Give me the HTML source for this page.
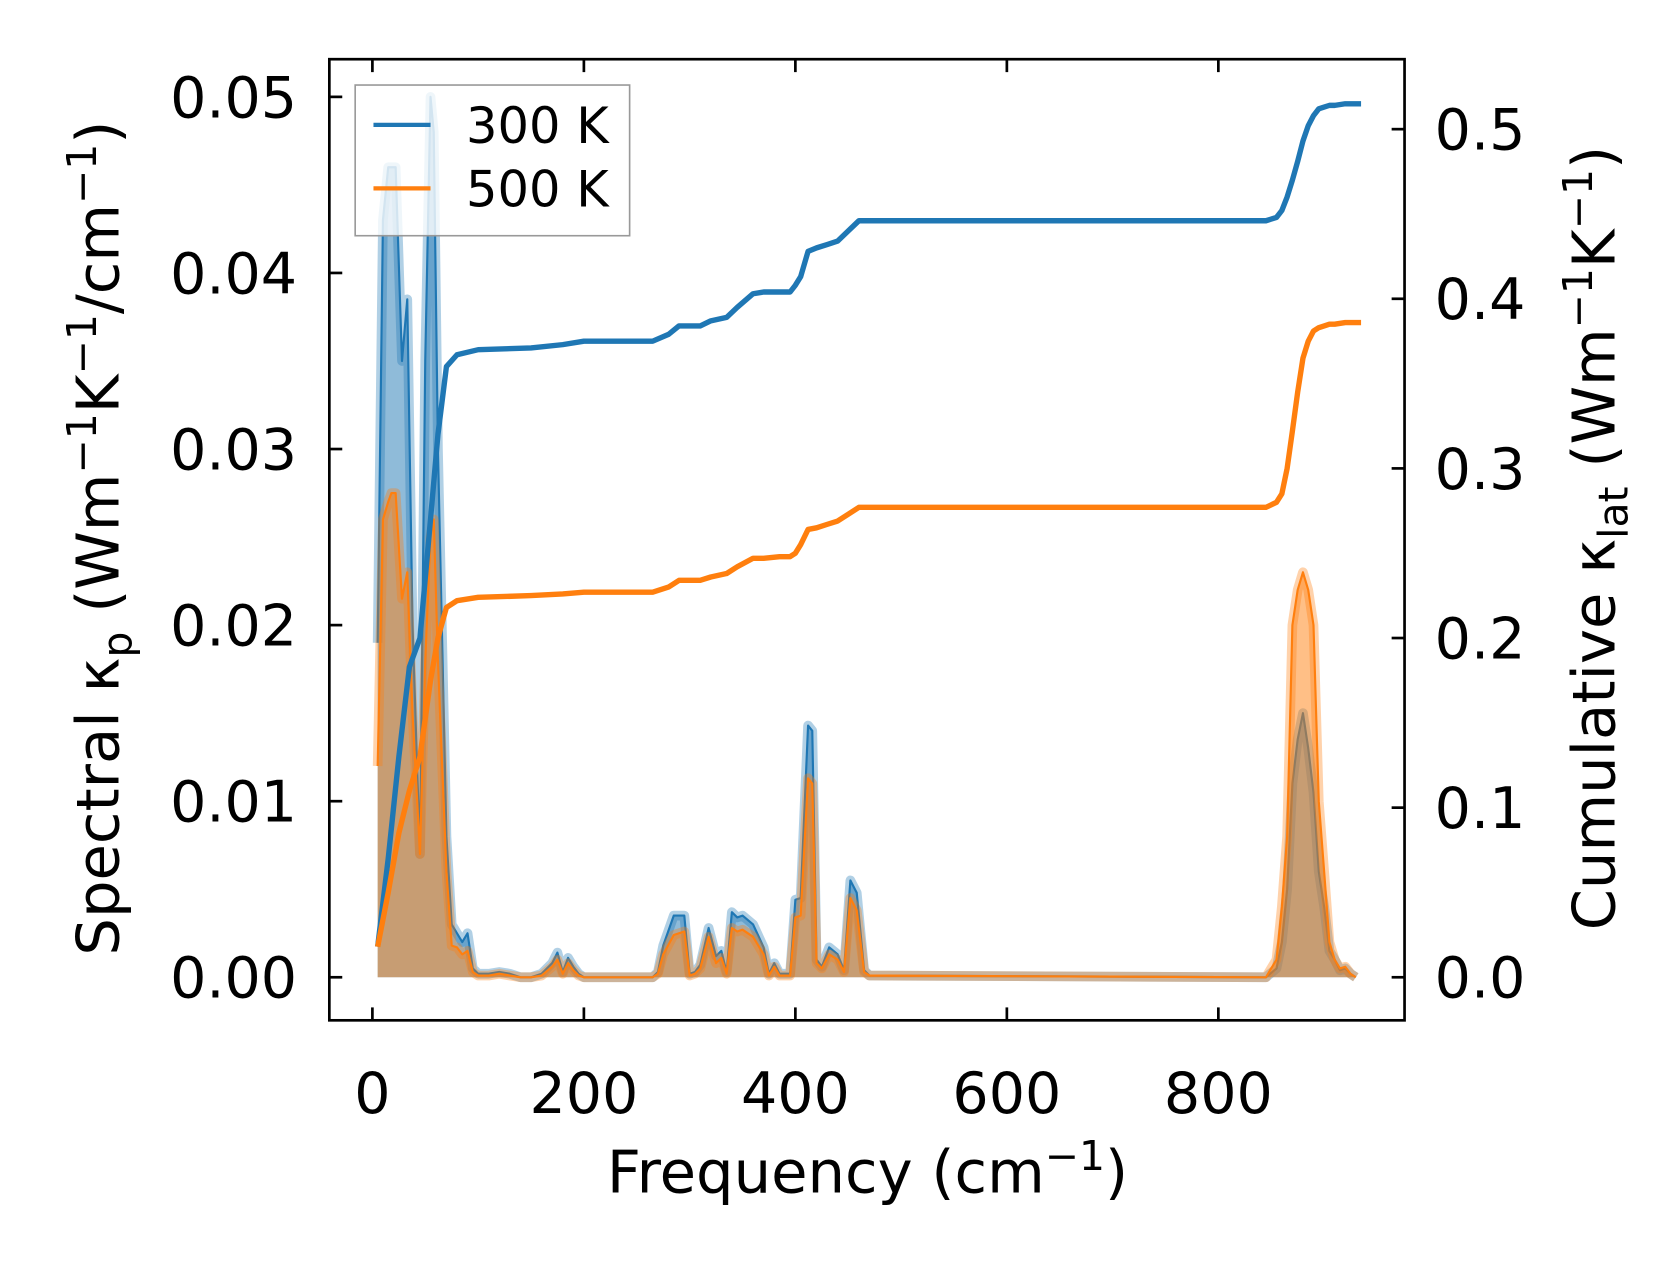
<!DOCTYPE html>
<html><head><meta charset="utf-8"><style>
html,body{margin:0;padding:0;background:#fff;}
svg{display:block;font-family:"DejaVu Sans","Liberation Sans",sans-serif;}
</style></head><body>
<svg id="chart" width="1679" height="1264" viewBox="0 0 1560 1174.4" xmlns="http://www.w3.org/2000/svg">
<rect width="1560" height="1174.4" fill="#fff"/>
<g id="marks"></g>
<g id="axes"></g>
<g>
<rect x="330" y="79" width="255" height="140" fill="#fff" fill-opacity="0.8" stroke="#999" stroke-width="1.5"/>
<line x1="347" y1="116" x2="400" y2="116" stroke="#1f77b4" stroke-width="4"/>
<text x="433" y="133" font-size="46">300 K</text>
<line x1="347" y1="175" x2="400" y2="175" stroke="#ff7f0e" stroke-width="4"/>
<text x="433" y="192" font-size="46">500 K</text>
</g>
<text x="806" y="1108" font-size="55" text-anchor="middle">Frequency (cm<tspan font-size="38" dy="-21">−1</tspan><tspan dy="21">)</tspan></text>
<text transform="translate(110,500) rotate(-90)" font-size="55" text-anchor="middle">Spectral κ<tspan font-size="38" dy="12">p</tspan><tspan dy="-12"> (Wm</tspan><tspan font-size="38" dy="-21">−1</tspan><tspan dy="21">K</tspan><tspan font-size="38" dy="-21">−1</tspan><tspan dy="21">/cm</tspan><tspan font-size="38" dy="-21">−1</tspan><tspan dy="21">)</tspan></text>
<text transform="translate(1500,500) rotate(-90)" font-size="55" text-anchor="middle">Cumulative κ<tspan font-size="38" dy="12">lat</tspan><tspan dy="-12"> (Wm</tspan><tspan font-size="38" dy="-21">−1</tspan><tspan dy="21">K</tspan><tspan font-size="38" dy="-21">−1</tspan><tspan dy="21">)</tspan></text>
</svg>
<script>
const freqSpec = [5,10,15,18,22,28,33,38,45,50,55,58,62,70,75,80,85,90,95,100,110,120,130,140,150,160,170,175,180,185,190,195,200,265,270,275,285,295,300,305,310,318,325,330,335,340,345,350,360,370,375,380,385,390,395,400,405,412,416,420,425,432,440,446,452,458,465,470,845,855,860,865,870,875,880,885,890,895,900,905,910,915,920,925,930];
const spec300 = [0.019,0.043,0.046,0.046,0.046,0.035,0.0385,0.02,0.007,0.035,0.05,0.048,0.03,0.008,0.003,0.0025,0.002,0.0025,0.0005,0.0002,0.0002,0.0003,0.0002,0,0,0.0002,0.0008,0.0014,0.0003,0.0011,0.0006,0.0002,0,0,0.0003,0.0018,0.0035,0.0035,0.0002,0.0003,0.0007,0.0028,0.0012,0.0015,0.0003,0.0037,0.0034,0.0035,0.003,0.0017,0.0002,0.0008,0.0002,0.0002,0.0002,0.0044,0.0045,0.0143,0.014,0.001,0.0006,0.0017,0.0013,0.0004,0.0055,0.0048,0.0004,0.0001,0,0.0005,0.002,0.005,0.011,0.0135,0.015,0.013,0.0105,0.006,0.004,0.0015,0.001,0.0004,0.0005,0.0002,0];
const spec500 = [0.012,0.026,0.027,0.0275,0.0275,0.0215,0.023,0.015,0.007,0.018,0.025,0.026,0.018,0.006,0.0018,0.0017,0.0013,0.0015,0.0003,0.0001,0.0001,0.0002,0.0001,0,0,0.0001,0.0006,0.001,0.0002,0.0008,0.0004,0.0001,0,0,0.0002,0.0013,0.0024,0.0026,0.0001,0.0002,0.0005,0.0023,0.0008,0.0011,0.0002,0.0028,0.0026,0.0027,0.0023,0.0013,0.0001,0.0006,0.0001,0.0001,0.0001,0.0034,0.0035,0.0113,0.011,0.0008,0.0005,0.0013,0.001,0.0003,0.0045,0.0038,0.0003,0.0001,0,0.001,0.004,0.008,0.02,0.022,0.023,0.022,0.02,0.01,0.006,0.002,0.001,0.0005,0.0006,0.0002,0];
const freqCum = [5,15,25,35,45,55,62,70,80,100,150,180,200,265,280,290,310,320,335,345,360,370,385,395,400,405,412,420,430,440,450,460,500,845,855,860,865,870,875,880,885,890,895,900,905,910,920,935];
const cum300 = [0.018,0.07,0.13,0.183,0.2,0.27,0.32,0.36,0.367,0.37,0.371,0.373,0.375,0.375,0.379,0.384,0.384,0.387,0.389,0.395,0.403,0.404,0.404,0.404,0.408,0.413,0.428,0.43,0.432,0.434,0.44,0.446,0.446,0.446,0.448,0.452,0.46,0.47,0.481,0.493,0.502,0.508,0.512,0.513,0.514,0.514,0.515,0.515];
const cum500 = [0.018,0.05,0.085,0.11,0.13,0.175,0.2,0.218,0.222,0.224,0.225,0.226,0.227,0.227,0.23,0.234,0.234,0.236,0.238,0.242,0.247,0.247,0.248,0.248,0.25,0.255,0.264,0.265,0.267,0.269,0.273,0.277,0.277,0.277,0.28,0.285,0.3,0.322,0.345,0.365,0.375,0.381,0.383,0.384,0.385,0.385,0.386,0.386];
const xTicks = [0,200,400,600,800];
const yLeftTicks = [0,0.01,0.02,0.03,0.04,0.05];
const yRightTicks = [0,0.1,0.2,0.3,0.4,0.5];

const L=306,R=1305,T=55,B=948;
const xs = f => 346 + f*0.9825;
const yl = v => 908 - v*16360;
const yr = v => 908 - v*1576;
const NS='http://www.w3.org/2000/svg';
const marks=document.getElementById('marks'), axes=document.getElementById('axes');
function mk(tag, attrs, parent){const e=document.createElementNS(NS,tag);for(const k in attrs)e.setAttribute(k,attrs[k]);parent.appendChild(e);return e;}
function linePts(xsArr, ys, yf){return xsArr.map((f,i)=>xs(f).toFixed(1)+','+yf(ys[i]).toFixed(1)).join(' ');}

const series=[[spec300,'#1f77b4','300k'],[spec500,'#ff7f0e','500k']];
series.forEach(([d,c,n])=>{
  const pts=linePts(freqSpec,d,yl);
  const fill=mk('polygon',{points:xs(freqSpec[0])+','+yl(0)+' '+pts+' '+xs(freqSpec[freqSpec.length-1])+','+yl(0),fill:c,'fill-opacity':0.5},marks);
  
  
  const halo=mk('polyline',{points:pts,fill:'none',stroke:c,'stroke-opacity':0.35,'stroke-width':9,'stroke-linejoin':'round'},marks);
  
  
  const ln=mk('polyline',{points:pts,fill:'none',stroke:c,'stroke-width':2,'stroke-linejoin':'round'},marks);
  
  
});
[[cum300,'#1f77b4','300k'],[cum500,'#ff7f0e','500k']].forEach(([d,c,n])=>{
  const ln=mk('polyline',{points:linePts(freqCum,d,yr),fill:'none',stroke:c,'stroke-width':5,'stroke-linejoin':'round'},marks);
  
  
});

const frame=mk('rect',{x:L,y:T,width:R-L,height:B-T,fill:'none',stroke:'#000','stroke-width':2.5},axes);


xTicks.forEach(t=>{
  const x=xs(t);
  mk('line',{x1:x,y1:B,x2:x,y2:B-12,stroke:'#000','stroke-width':2.5},axes);
  mk('line',{x1:x,y1:T,x2:x,y2:T+12,stroke:'#000','stroke-width':2.5},axes);
  const tx=mk('text',{x:x,y:B+86,'font-size':53,'text-anchor':'middle'},axes);
  tx.textContent=t;
  
  
});
yLeftTicks.forEach(t=>{
  const y=yl(t);
  mk('line',{x1:L,y1:y,x2:L+12,y2:y,stroke:'#000','stroke-width':2.5},axes);
  const tx=mk('text',{x:L-30,y:y+19,'font-size':53,'text-anchor':'end'},axes);
  tx.textContent=t.toFixed(2);
  
  
});
yRightTicks.forEach(t=>{
  const y=yr(t);
  mk('line',{x1:R,y1:y,x2:R-12,y2:y,stroke:'#000','stroke-width':2.5},axes);
  const tx=mk('text',{x:R+28,y:y+19,'font-size':53,'text-anchor':'start'},axes);
  tx.textContent=t.toFixed(1);
  
  
});
</script>
</body></html>
